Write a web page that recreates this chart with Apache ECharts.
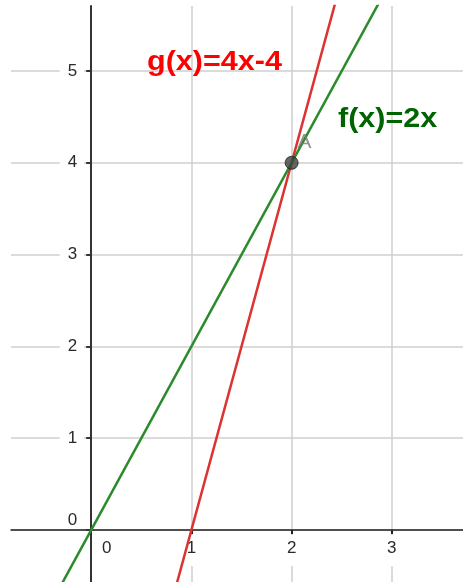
<!DOCTYPE html>
<html>
<head>
<meta charset="utf-8">
<script src="https://cdn.jsdelivr.net/npm/echarts@6/dist/echarts.min.js"></script>
<style>html,body{margin:0;padding:0;background:#fff;}#c{width:463px;height:582px;}</style>
</head>
<body>
<div id="c"></div>
<script>
// ---- data ----
const xTicks = [0, 1, 2, 3];
const yTicks = [0, 1, 2, 3, 4, 5];
const fLine = [[-1, -2], [4, 8]];      // f(x)=2x endpoints
const gLine = [[-1, -8], [4, 12]];     // g(x)=4x-4 endpoints
const pointA = [[2, 4]];
const pointName = 'A';
const fName = 'f(x)=2x';
const gName = 'g(x)=4x-4';

const xMin = -0.8, xMax = 3.71, yMin = -0.566, yMax = 5.708;

const chart = echarts.init(document.getElementById('c'));
const labelFont = 'Liberation Sans, Arial, sans-serif';

chart.setOption({
  animation: false,
  backgroundColor: '#ffffff',
  grid: { left: 11, right: 0, top: 6, bottom: 0, containLabel: false, outerBoundsMode: 'none' },
  xAxis: {
    type: 'value', min: xMin, max: xMax,
    axisLine: { onZero: false, lineStyle: { color: '#222', width: 1.5 } },
    axisTick: { show: true, customValues: xTicks, length: 4, lineStyle: { color: '#222', width: 2 } },
    splitLine: { show: true, lineStyle: { color: '#cfcfcf', width: 1.5 } },
    axisLabel: {
      customValues: xTicks, margin: 5,
      formatter: v => v === 0 ? '{z|0}' : '{n|' + v + '}',
      rich: {
        n: { fontSize: 17, fontFamily: labelFont, color: '#2a2a2a', backgroundColor: '#fff', padding: [5, 5, 9, 5] },
        z: { fontSize: 17, fontFamily: labelFont, color: '#2a2a2a', padding: [5, 0, 9, 31] }
      }
    }
  },
  yAxis: {
    type: 'value', min: yMin, max: yMax,
    axisLine: { onZero: false, lineStyle: { color: '#333', width: 2 } },
    axisTick: { show: true, customValues: yTicks, length: 5, lineStyle: { color: '#333', width: 2 } },
    splitLine: { show: true, lineStyle: { color: '#cfcfcf', width: 1.5 } },
    axisLabel: {
      customValues: yTicks, margin: 7,
      formatter: v => v === 0 ? '{z|0}' : '{n|' + v + '}',
      rich: {
        n: { fontSize: 17, fontFamily: labelFont, color: '#2a2a2a', backgroundColor: '#fff', padding: [2, 7, 2, 8] },
        z: { fontSize: 17, fontFamily: labelFont, color: '#2a2a2a', padding: [0, 7, 20, 8] }
      }
    }
  },
  series: [
    {
      type: 'line', data: gLine, showSymbol: false, clip: true,
      lineStyle: { color: '#dc3232', width: 2.5 }, z: 3
    },
    {
      type: 'line', data: fLine, showSymbol: false, clip: true,
      lineStyle: { color: '#2b8a2b', width: 2.5 }, z: 3
    },
    {
      type: 'scatter', data: pointA, symbolSize: 13, z: 5,
      itemStyle: { color: '#3f3f3f', borderColor: '#1e1e1e', borderWidth: 1 },
      label: {
        show: true, formatter: pointName, position: [13, -24],
        align: 'left', verticalAlign: 'top',
        fontSize: 21, fontFamily: labelFont, color: '#777'
      }
    }
  ],
  graphic: [
    {
      type: 'text', x: 147, y: 62, scaleX: 1.09, z: 100,
      style: { text: gName, fill: '#ff0000', font: 'bold 28px ' + labelFont, verticalAlign: 'middle', align: 'left' }
    },
    {
      type: 'text', x: 338, y: 119.5, scaleX: 1.09, z: 100,
      style: { text: fName, fill: '#006400', font: 'bold 28px ' + labelFont, verticalAlign: 'middle', align: 'left' }
    }
  ]
});

// move both axes (line, ticks and labels) onto the origin through the axis offset
const origin = chart.convertToPixel({ gridIndex: 0 }, [0, 0]);
const corner = chart.convertToPixel({ gridIndex: 0 }, [xMin, yMin]);
chart.setOption({
  xAxis: { offset: -(corner[1] - origin[1]) },
  yAxis: { offset: -(origin[0] - corner[0]) }
});
</script>
</body>
</html>
